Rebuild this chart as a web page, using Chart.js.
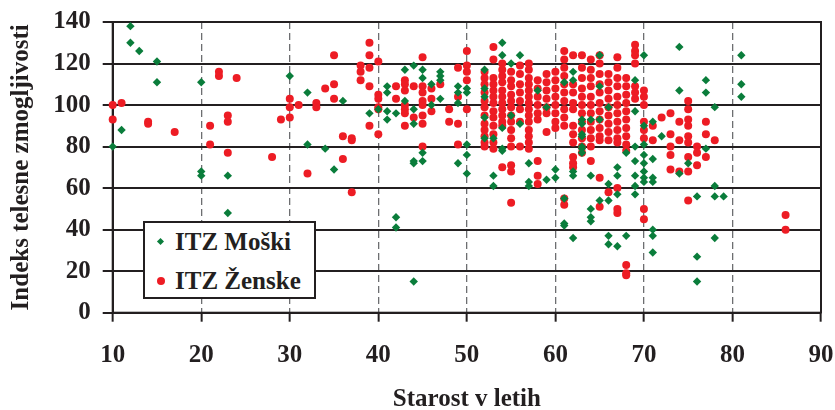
<!DOCTYPE html>
<html>
<head>
<meta charset="utf-8">
<script src="https://cdn.jsdelivr.net/npm/chart.js@4"></script>
<style>
html, body { margin: 0; padding: 0; background: #fff; }
#wrap { position: relative; width: 835px; height: 410px; }
#legend {
    position: absolute; left: 143px; top: 221px; width: 169px; height: 74px;
    border: 2px solid #231f20; background: #fff;
    font: bold 25px 'Liberation Serif', 'Times New Roman', serif; color: #231f20;
}
.row { position: absolute; left: 0; height: 30px; line-height: 30px; white-space: nowrap; }
.row span.txt { position: absolute; left: 30px; top: 0; }
.dia { position: absolute; left: 13px; top: 12px; width: 5px; height: 5px; background: #0a7d3b; transform: rotate(45deg); }
.dot { position: absolute; left: 12px; top: 11px; width: 8px; height: 8px; border-radius: 50%; background: #ed1c24; }
</style>
</head>
<body>
<div id="wrap">
    <canvas id="chart" width="835" height="410"></canvas>
    <div id="legend">
        <div class="row" style="top:4px"><span class="dia"></span><span class="txt">ITZ Moški</span></div>
        <div class="row" style="top:43px"><span class="dot"></span><span class="txt">ITZ Ženske</span></div>
    </div>
</div>
<script>
// Axis ticks
const xTicks = [10, 20, 30, 40, 50, 60, 70, 80, 90];
const yTicks = [0, 20, 40, 60, 80, 100, 120, 140];

// ITZ Moški (age, index)
const menAge = [
    10, 11, 12, 12, 13, 15, 15, 20, 20, 20, 23, 23,
    30, 32, 32, 34, 35, 36,
    39, 40, 41, 41, 41, 41, 42, 42, 42, 43, 43,
    44, 44, 44, 44, 44, 44, 45, 45, 45, 45, 46, 46,
    47, 47, 47, 47, 49, 49, 49, 49, 50, 50, 50, 50, 50,
    52, 52, 52, 52, 52, 53, 53, 53, 54, 54, 54, 54, 54,
    55, 55, 56, 56, 57, 57, 57, 58, 59, 59, 60, 60,
    61, 61, 61, 61, 62, 62, 62, 62, 62, 63, 63, 63, 63, 63, 63, 63,
    64, 64, 64, 64, 64, 65, 65, 65, 65, 66, 66, 66, 66, 66,
    67, 67, 67, 67, 68, 68, 69, 69, 69, 69, 69, 69, 69,
    70, 70, 70, 70, 70, 70, 70, 70, 71, 71, 71, 71, 71, 71, 71,
    72, 74, 74, 74, 75, 76, 76, 76, 77, 77, 77,
    78, 78, 78, 78, 79, 81, 81, 81
];
const menItz = [
    80, 88, 138, 130, 126, 121, 111, 111, 68, 66, 66, 48,
    114, 106, 81, 79, 69, 102,
    96, 98, 109, 106, 97, 93, 96, 46, 41, 117, 102,
    119, 98, 91, 73, 72, 15, 117, 113, 77, 73, 110, 100,
    116, 114, 112, 103, 109, 106, 101, 72, 108, 106, 81, 76, 67,
    117, 108, 104, 94, 84, 84, 66, 61, 130, 124, 89, 79, 78,
    120, 95, 124, 91, 72, 63, 61, 107, 64, 99, 69, 65,
    111, 55, 43, 42, 116, 112, 36, 68, 66, 93, 85, 79, 77, 91, 86, 80,
    66, 93, 50, 46, 44, 124, 109, 93, 54, 99, 62, 54, 37, 33,
    70, 66, 57, 32, 77, 37, 112, 97, 80, 73, 66, 61, 57,
    124, 90, 81, 76, 72, 68, 65, 63, 92, 74, 65, 63, 40, 37, 29,
    85, 128, 107, 67, 72, 56, 27, 15, 112, 106, 79,
    99, 61, 56, 36, 56, 124, 110, 104
];

// ITZ Ženske (age, index)
const womenAge = [
    10, 10, 11, 14, 14, 17, 21, 21, 22, 22, 23, 23, 23, 24,
    28, 29, 30, 30, 30, 31, 32, 33, 33, 34, 35, 35, 35, 36, 36, 37, 37, 37,
    38, 38, 38, 39, 39, 39, 39, 39, 40, 40, 40, 40, 40, 40,
    42, 42, 43, 43, 43, 43, 43, 43, 43, 44, 44,
    45, 45, 45, 45, 45, 45, 45, 45, 46, 46, 46, 47, 48, 48,
    49, 49, 49, 49, 50, 50, 50, 50, 50,
    52, 52, 52, 52, 52, 52, 52, 52, 52, 52, 52, 52,
    53, 53, 53, 53, 53, 53, 53, 53, 53, 53, 53, 53, 53,
    54, 54, 54, 54, 54, 54, 54, 54, 54, 54, 54, 54,
    55, 55, 55, 55, 55, 55, 55, 55, 55, 55, 55, 55, 55, 55,
    56, 56, 56, 56, 56, 56, 56, 56,
    57, 57, 57, 57, 57, 57, 57, 57, 57, 57, 57, 57, 57, 57,
    58, 58, 58, 58, 58, 58, 58, 58, 58,
    59, 59, 59, 59, 59, 59, 59,
    60, 60, 60, 60, 60, 60, 60, 60,
    61, 61, 61, 61, 61, 61, 61, 61, 61, 61, 61, 61,
    62, 62, 62, 62, 62, 62, 62, 62, 62, 62, 62,
    63, 63, 63, 63, 63, 63, 63, 63, 63, 63, 63, 63,
    64, 64, 64, 64, 64, 64, 64, 64, 64, 64, 64, 64,
    65, 65, 65, 65, 65, 65, 65, 65, 65, 65, 65, 65, 65,
    66, 66, 66, 66, 66, 66, 66, 66, 66, 66,
    67, 67, 67, 67, 67, 67, 67, 67, 67, 67, 67, 67, 67, 67,
    68, 68, 68, 68, 68, 68, 68, 68, 68, 68, 68, 68, 68,
    69, 69, 69, 69, 69, 69, 69,
    70, 70, 70, 70, 70, 70, 70, 70, 71, 71,
    72, 73, 73, 73, 73, 73, 74, 74, 74,
    75, 75, 75, 75, 75, 75, 75, 75, 75, 76, 76, 76,
    77, 77, 77, 78, 86, 86
];
const womenItz = [
    100, 93, 101, 92, 91, 87, 90, 81, 116, 114, 95, 92, 77, 113,
    75, 93, 103, 99, 94, 100, 67, 101, 99, 108, 124, 110, 103, 85, 74, 84, 83, 58,
    119, 116, 112, 130, 124, 118, 109, 90, 121, 105, 103, 99, 98, 86,
    109, 103, 112, 110, 107, 100, 98, 96, 90, 109, 94,
    123, 109, 106, 102, 100, 95, 91, 80, 108, 103, 97, 110, 98, 92,
    118, 104, 91, 81, 126, 119, 116, 112, 98,
    116, 113, 110, 106, 102, 99, 95, 91, 88, 85, 82, 80,
    128, 122, 113, 110, 107, 104, 101, 97, 94, 90, 86, 82, 79,
    120, 117, 114, 111, 107, 104, 101, 98, 95, 92, 90, 70,
    116, 112, 109, 105, 102, 99, 95, 92, 88, 84, 80, 71, 68, 53,
    119, 115, 110, 106, 102, 98, 92, 80,
    120, 117, 113, 110, 107, 104, 101, 98, 95, 92, 88, 85, 82, 79,
    112, 108, 104, 100, 96, 93, 73, 66, 62,
    115, 111, 107, 103, 99, 96, 87,
    116, 112, 108, 104, 100, 96, 92, 89,
    126, 122, 118, 114, 110, 106, 102, 98, 94, 90, 55, 52,
    124, 110, 106, 101, 98, 90, 86, 82, 75, 72, 70,
    124, 118, 113, 108, 104, 100, 96, 92, 88, 84, 80, 77,
    122, 117, 113, 109, 104, 100, 96, 92, 88, 84, 80, 73,
    124, 120, 115, 110, 106, 101, 97, 93, 89, 85, 83, 65, 51,
    115, 111, 107, 103, 99, 95, 91, 87, 83, 58,
    123, 118, 113, 109, 104, 100, 96, 92, 88, 84, 82, 60, 50, 48,
    113, 109, 105, 101, 97, 93, 89, 85, 81, 78, 23, 19, 18,
    129, 126, 124, 120, 109, 106, 103,
    107, 104, 100, 92, 88, 84, 50, 45, 90, 83,
    94, 96, 86, 80, 76, 69, 92, 83, 68,
    102, 98, 93, 90, 85, 82, 75, 68, 54, 80, 77, 71,
    92, 86, 75, 83, 47, 40
];

const GREEN = '#0a7d3b';
const RED = '#ed1c24';
const INK = '#231f20';
const FONT = { family: "'Liberation Serif', 'Times New Roman', serif", size: 25, weight: 'bold' };

function pairs(xs, ys) {
    return xs.map((x, i) => ({ x: x, y: ys[i] }));
}

// Outline of the plot area
const frame = {
    id: 'frame',
    beforeDatasetsDraw(chart) {
        const a = chart.chartArea;
        const c = chart.ctx;
        c.save();
        c.strokeStyle = INK;
        c.lineWidth = 2;
        c.strokeRect(a.left, a.top, a.right - a.left, a.bottom - a.top);
        c.restore();
    }
};

new Chart(document.getElementById('chart'), {
    type: 'scatter',
    data: {
        datasets: [
            {
                label: 'ITZ Moški',
                data: pairs(menAge, menItz),
                pointStyle: 'rectRot',
                pointRadius: 4.2,
                backgroundColor: GREEN,
                borderWidth: 0,
                clip: false
            },
            {
                label: 'ITZ Ženske',
                data: pairs(womenAge, womenItz),
                pointStyle: 'circle',
                pointRadius: 4,
                backgroundColor: RED,
                borderWidth: 0,
                clip: false
            }
        ]
    },
    options: {
        responsive: false,
        animation: false,
        layout: { padding: { left: 12, top: 22, right: 14, bottom: 0 } },
        plugins: { legend: { display: false }, tooltip: { enabled: false } },
        scales: {
            x: {
                type: 'linear',
                min: xTicks[0],
                max: xTicks[xTicks.length - 1],
                afterBuildTicks: s => { s.ticks = xTicks.map(v => ({ value: v })); },
                ticks: { font: FONT, color: INK, padding: 19, maxRotation: 0 },
                grid: {
                    color: c => (c.tick && (c.tick.value === 10 || c.tick.value === 90)) ? 'rgba(0,0,0,0)' : '#6d6e71',
                    lineWidth: 1.3,
                    tickColor: INK,
                    tickWidth: 2,
                    tickLength: 9
                },
                border: { display: true, color: INK, width: 2, dash: [7, 4] },
                title: { display: true, text: 'Starost v letih', font: { ...FONT, lineHeight: 0.8 }, color: INK, padding: 0 },
                afterFit: s => { s.height = 97.3; s.paddingLeft = 0; s.paddingRight = 0; }
            },
            y: {
                min: yTicks[0],
                max: yTicks[yTicks.length - 1],
                afterBuildTicks: s => { s.ticks = yTicks.map(v => ({ value: v })); },
                ticks: { font: FONT, color: INK, padding: 12 },
                grid: { color: INK, lineWidth: 2, tickColor: INK, tickWidth: 2, tickLength: 10 },
                border: { display: true, color: INK, width: 2 },
                title: { display: true, text: 'Indeks telesne zmogljivosti', font: { ...FONT, lineHeight: 0.8 }, color: INK, padding: 0 },
                afterFit: s => { s.width = 100.7; s.paddingTop = 0; s.paddingBottom = 0; }
            }
        }
    },
    plugins: [frame]
});
</script>
</body>
</html>
